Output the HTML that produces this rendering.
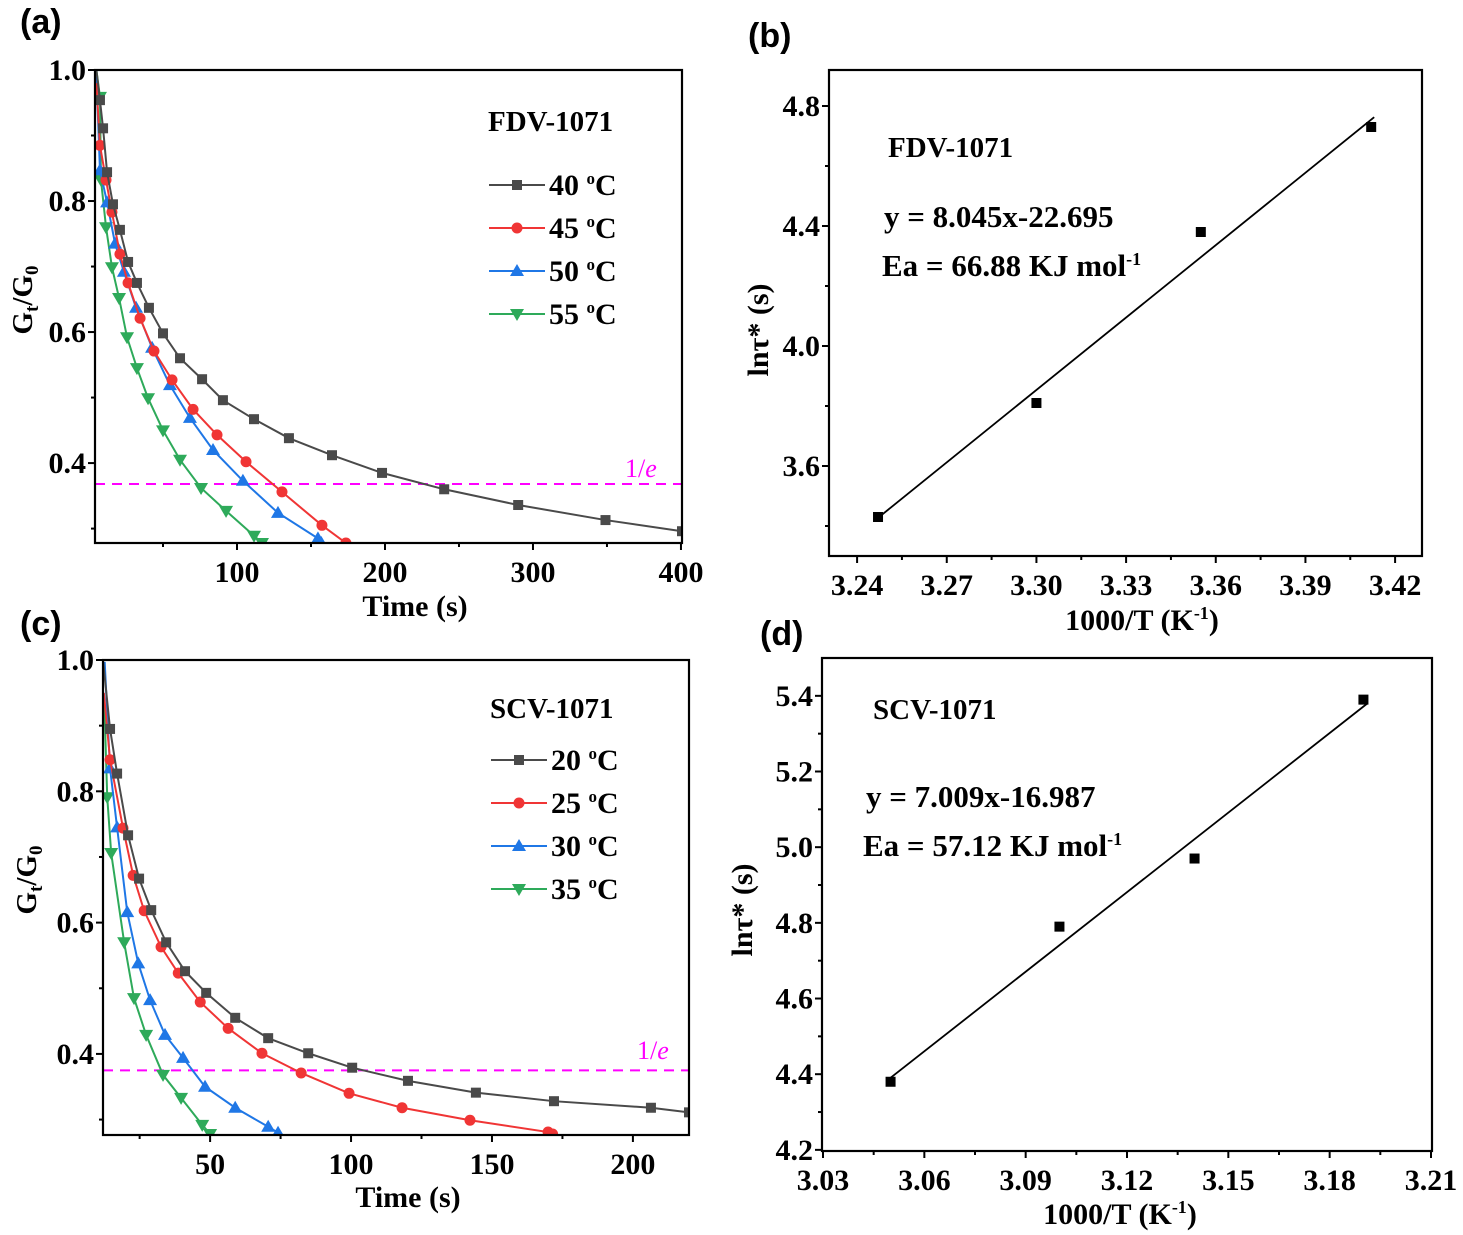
<!DOCTYPE html>
<html><head><meta charset="utf-8"><style>
body{margin:0;background:#fff}
svg{display:block}
text{font-family:"Liberation Serif",serif;font-weight:bold;fill:#000}
.pl{font-family:"Liberation Sans",sans-serif;font-size:34px}
</style></head><body>
<svg id="fig" width="1463" height="1235" viewBox="0 0 1463 1235" xmlns="http://www.w3.org/2000/svg"></svg>
<script>
// ---- Panel (a) data: FDV-1071 stress relaxation ----
const aX40=[5,7.4,9.5,12.2,16.2,20.9,26.4,32.4,40.5,50,61.5,76.4,90.5,111.5,135.1,164.2,198,240,290,349,400.7];
const aY40=[1.0,0.954,0.911,0.844,0.795,0.756,0.707,0.675,0.637,0.598,0.560,0.528,0.496,0.467,0.438,0.412,0.385,0.360,0.336,0.313,0.296];
const aX45=[5,7.4,11.5,15.5,20.9,26.4,34.5,43.9,56.1,70.3,86.5,106.1,130.4,157.4,173.6];
const aY45=[0.98,0.885,0.832,0.783,0.719,0.675,0.621,0.571,0.527,0.482,0.443,0.402,0.356,0.305,0.278];
const aX50=[5,7.4,12.2,17.6,23.6,31.8,42.6,54.7,68.2,83.8,104,127.7,154.7,157];
const aY50=[0.99,0.847,0.798,0.735,0.692,0.637,0.576,0.519,0.469,0.420,0.373,0.324,0.285,0.278];
const aX55=[5,7.4,8.1,11.5,15.5,20.3,25.7,32.4,39.9,50,61.5,75.7,92.6,111.5,116.9];
const aY55=[1.0,0.959,0.832,0.760,0.699,0.652,0.592,0.545,0.499,0.450,0.405,0.362,0.327,0.289,0.278];
const aLegend=["40 ºC","45 ºC","50 ºC","55 ºC"];
const aXTicks=[100,200,300,400];
const aYTicks=[0.4,0.6,0.8,1.0];
const aRef=[0.368];
// ---- Panel (c) data: SCV-1071 ----
const cX20=[12,14.5,17,20.9,24.8,29.1,34.4,41.1,48.6,58.9,70.6,84.8,100.4,120.2,144.3,172,206.4,219.9];
const cY20=[1.0,0.895,0.827,0.733,0.667,0.619,0.570,0.526,0.493,0.455,0.424,0.401,0.379,0.359,0.341,0.328,0.318,0.311];
const cX25=[12.3,14.5,19.1,22.7,26.6,32.6,38.7,46.5,56.4,68.4,82.3,99.3,118.1,142.2,169.9,171.5];
const cY25=[0.95,0.848,0.744,0.672,0.618,0.563,0.523,0.479,0.439,0.401,0.371,0.340,0.318,0.299,0.281,0.278];
const cX30=[12.6,14.5,17,20.6,24.5,28.7,34,40.4,48.2,58.9,70.6,74.1];
const cY30=[0.997,0.835,0.745,0.616,0.538,0.482,0.429,0.394,0.350,0.318,0.289,0.280];
const cX35=[12.5,13.5,14.9,19.5,23,27.3,33.3,39.7,47.2,50];
const cY35=[0.93,0.791,0.706,0.570,0.485,0.429,0.368,0.333,0.292,0.278];
const cLegend=["20 ºC","25 ºC","30 ºC","35 ºC"];
const cXTicks=[50,100,150,200];
const cYTicks=[0.4,0.6,0.8,1.0];
const cRef=[0.375];
// ---- Panel (b) Arrhenius ----
const bX=[3.247,3.300,3.355,3.412];
const bY=[3.43,3.81,4.38,4.73];
const bSlope=8.045, bIntercept=-22.695;
const bXTicks=[3.24,3.27,3.30,3.33,3.36,3.39,3.42];
const bYTicks=[3.6,4.0,4.4,4.8];
// ---- Panel (d) ----
const dX=[3.05,3.10,3.14,3.19];
const dY=[4.38,4.79,4.97,5.39];
const dSlope=7.009, dIntercept=-16.987;
const dXTicks=[3.03,3.06,3.09,3.12,3.15,3.18,3.21];
const dYTicks=[4.2,4.4,4.6,4.8,5.0,5.2,5.4];

const NS="http://www.w3.org/2000/svg";
const svg=document.getElementById('fig');
function el(tag,attrs,parent){const e=document.createElementNS(NS,tag);for(const k in attrs)e.setAttribute(k,attrs[k]);(parent||svg).appendChild(e);return e;}
function txt(s,attrs,parent){const e=el('text',attrs,parent);e.innerHTML=s;return e;}
function scale(d0,d1,p0,p1){return v=>p0+(v-d0)/(d1-d0)*(p1-p0);}
const FS=30;
function axes(g,L,T,R,B,sx,sy,xt,yt,xmin,ymin,xfmt,yfmt){
  el('rect',{x:L,y:T,width:R-L,height:B-T,fill:'none',stroke:'#000','stroke-width':2.2},g);
  xt.forEach(v=>{const x=sx(v);el('line',{x1:x,y1:B,x2:x,y2:B+7,stroke:'#000','stroke-width':2},g);
    const t=txt(xfmt(v),{x:x,y:B+39,'text-anchor':'middle','font-size':FS},g);
    
    });
  xmin.forEach(v=>{const x=sx(v);el('line',{x1:x,y1:B,x2:x,y2:B+4,stroke:'#000','stroke-width':2},g);});
  yt.forEach(v=>{const y=sy(v);el('line',{x1:L,y1:y,x2:L-7,y2:y,stroke:'#000','stroke-width':2},g);
    const t=txt(yfmt(v),{x:L-9,y:y+10,'text-anchor':'end','font-size':FS},g);
    
    });
  ymin.forEach(v=>{const y=sy(v);el('line',{x1:L,y1:y,x2:L-4,y2:y,stroke:'#000','stroke-width':2},g);});
}
function marker(g,type,x,y,c){
  if(type==='sq')return el('rect',{x:x-5,y:y-5,width:10,height:10,fill:c},g);
  if(type==='ci')return el('circle',{cx:x,cy:y,r:5.5,fill:c},g);
  if(type==='up')return el('polygon',{points:`${x},${y-7} ${x-7},${y+5} ${x+7},${y+5}`,fill:c},g);
  return el('polygon',{points:`${x},${y+7} ${x-7},${y-5} ${x+7},${y-5}`,fill:c},g);
}
const colors=['#4a4a4a','#f03535','#1f77e6','#2eaa5a'];
const mk=['sq','ci','up','dn'];

function relaxPanel(name,L,T,R,B,xr,yr,xs,ys,legend,title,xt,yt,xmin,ymin,legX,legY,legOff,lblX,lblY,eX,eY,refv){
  const g=el('g',{});
  
  
  const sx=scale(xr[0],xr[1],L,R), sy=scale(yr[0],yr[1],B,T);
  const cp=el('clipPath',{id:name+'-clip'},g);el('rect',{x:L,y:T,width:R-L,height:B-T},cp);
  const pg=el('g',{'clip-path':`url(#${name}-clip)`},g);
  const ey=sy(refv[0]);
  const dl=el('line',{x1:L,y1:ey,x2:R,y2:ey,stroke:'#ff00ff','stroke-width':2,'stroke-dasharray':'10,7'},pg);
  
  
  for(let i=3;i>=0;i--){
    const X=xs[i],Y=ys[i];
    const pts=X.map((v,j)=>sx(v)+','+sy(Y[j])).join(' ');
    const pl=el('polyline',{points:pts,fill:'none',stroke:colors[i],'stroke-width':2},pg);
    
    
    X.forEach((v,j)=>{if(j===0)return;const m=marker(pg,mk[i],sx(v),sy(Y[j]),colors[i]);
      
      });
  }
  axes(g,L,T,R,B,sx,sy,xt,yt,xmin,ymin,v=>String(v),v=>v.toFixed(1));
  const et=txt('1/<tspan font-style="italic">e</tspan>',{x:eX,y:eY,'font-size':26,style:'fill:#ff00ff;font-weight:normal'},g);
  
  
  const tt=txt(title,{x:legX,y:legY,'font-size':29},g);
  
  
  legend.forEach((s,i)=>{const y=legY+legOff+i*43;
    const lg=el('g',{},g);
    
    
    el('line',{x1:legX+1,y1:y,x2:legX+57,y2:y,stroke:colors[i],'stroke-width':2},lg);
    marker(lg,mk[i],legX+29,y,colors[i]);
    txt(s.replace('º','<tspan dy="-11" font-size="17">o</tspan><tspan dy="11">')+'</tspan>',{x:legX+61,y:y+10,'font-size':30},lg);
  });
  const yl=txt('G<tspan font-size="19" dy="6">t</tspan><tspan dy="-6">/G</tspan><tspan font-size="19" dy="6">0</tspan>',{transform:`translate(${lblY[0]},${lblY[1]}) rotate(-90)`,'text-anchor':'middle','font-size':29},g);
  
  
  const xl=txt('Time (s)',{x:lblX[0],y:lblX[1],'text-anchor':'middle','font-size':30},g);
  
  
}
function arrPanel(name,L,T,R,B,xr,yr,X,Y,m,b,xt,yt,xmin,ymin,ttl,eq,ea,tp,lblX,lblY){
  const g=el('g',{});
  
  
  const sx=scale(xr[0],xr[1],L,R), sy=scale(yr[0],yr[1],B,T);
  const x0=X[0]-0.001,x1=X[X.length-1]+0.001;
  const fl=el('line',{x1:sx(x0),y1:sy(m*x0+b),x2:sx(x1),y2:sy(m*x1+b),stroke:'#000','stroke-width':1.8},g);
  
  
  X.forEach((v,i)=>{const r=el('rect',{x:sx(v)-5,y:sy(Y[i])-5,width:10,height:10,fill:'#000'},g);
    
    });
  axes(g,L,T,R,B,sx,sy,xt,yt,xmin,ymin,v=>v.toFixed(2),v=>v.toFixed(1));
  const a=txt(ttl,{x:tp[0][0],y:tp[0][1],'font-size':29},g);
  
  const e1=txt(eq,{x:tp[1][0],y:tp[1][1],'font-size':31},g);
  
  const e2=txt(ea+'<tspan dy="-11" font-size="18">-1</tspan>',{x:tp[2][0],y:tp[2][1],'font-size':31},g);
  
  const yl=txt('ln&#964;* (s)',{transform:`translate(${lblY[0]},${lblY[1]}) rotate(-90)`,'text-anchor':'middle','font-size':30},g);
  
  const xl=txt('1000/T (K<tspan dy="-11" font-size="18">-1</tspan><tspan dy="11">)</tspan>',{x:lblX[0],y:lblX[1],'text-anchor':'middle','font-size':30},g);
  
}
relaxPanel('panel-a',95,70,682,543,[4.05,400.7],[0.278,1.0],[aX40,aX45,aX50,aX55],[aY40,aY45,aY50,aY55],aLegend,'FDV-1071',aXTicks,aYTicks,[50,150,250,350],[0.3,0.5,0.7,0.9],488,131,54,[415,616],[32,300],625,477,aRef);
relaxPanel('panel-c',103,660,689,1135,[12,219.9],[0.2765,1.0],[cX20,cX25,cX30,cX35],[cY20,cY25,cY30,cY35],cLegend,'SCV-1071',cXTicks,cYTicks,[25,75,125,175],[0.3,0.5,0.7,0.9],490,718,42,[408,1207],[36,880],637,1059,cRef);
arrPanel('panel-b',829,70,1422,556,[3.2306,3.429],[3.3,4.92],bX,bY,bSlope,bIntercept,bXTicks,bYTicks,[3.255,3.285,3.315,3.345,3.375,3.405],[3.4,3.8,4.2,4.6],'FDV-1071','y = 8.045x-22.695','Ea = 66.88 KJ mol',[[888,157],[884,227],[882,276]],[1142,630],[768,330]);
arrPanel('panel-d',822,658,1432,1151,[3.0297,3.2103],[4.197,5.5],dX,dY,dSlope,dIntercept,dXTicks,dYTicks,[3.045,3.075,3.105,3.135,3.165,3.195],[4.3,4.5,4.7,4.9,5.1,5.3],'SCV-1071','y = 7.009x-16.987','Ea = 57.12 KJ mol',[[873,719],[866,807],[863,856]],[1120,1224],[752,910]);
[['(a)',20,33],['(b)',748,47],['(c)',20,635],['(d)',760,645]].forEach(p=>{
  const t=txt(p[0],{x:p[1],y:p[2]},svg);t.setAttribute('class','pl');
  
  
});
</script>
</body></html>
